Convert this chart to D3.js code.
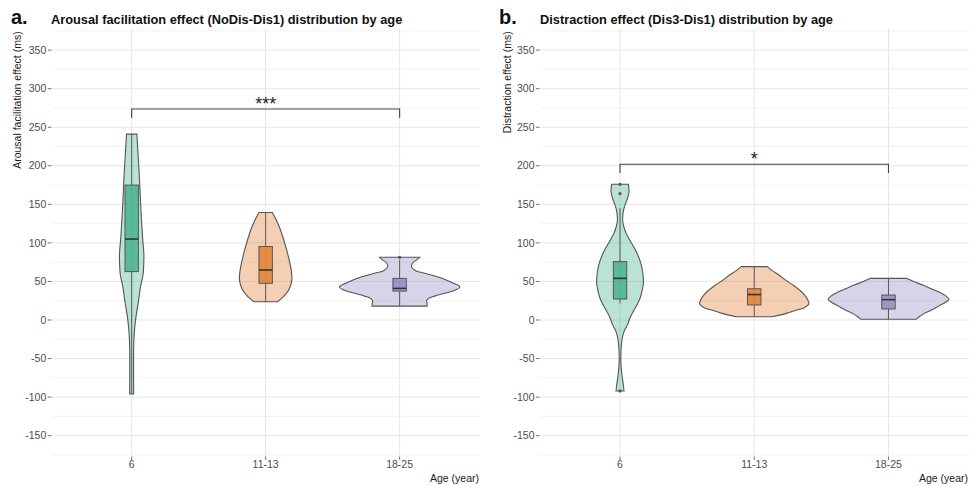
<!DOCTYPE html>
<html><head><meta charset="utf-8">
<script src="https://cdn.jsdelivr.net/npm/d3@7"></script>
<style>
body{margin:0;background:#fff;}
text{font-family:"Liberation Sans",Arial,sans-serif;}
</style>
</head><body><svg id="chart" width="969" height="486"></svg>
<script>
// ---------------- DATA ----------------
const categories = ["6", "11-13", "18-25"];
const yTicks = [-150, -100, -50, 0, 50, 100, 150, 200, 250, 300, 350];
const yMinor = [-175, -125, -75, -25, 25, 75, 125, 175, 225, 275, 325, 375];
const colors = ["#1b9e77", "#d95f02", "#7570b3"];

// violin outlines: [value (ms), relative density (arbitrary units)]
const violinA6 = [[241,5.2],[216,6.3],[190,7.5],[160,8.6],[130,9.8],[105,11],[86,12.2],[70,12],[58,11.3],[43,8.8],[26,7],[15,5.6],[4,4.3],[-8,3.2],[-17,2.6],[-30,2.1],[-50,1.9],[-75,1.9],[-96,2]];
const violinA11 = [[139.5,6.7],[130,10.5],[118,14.5],[106,17.6],[86,22],[65,25.5],[52,26.2],[40,23.5],[32,19],[27,15],[23.7,12]];
const violinA18 = [[81.3,20],[78,17],[74,13],[69,12],[64,16],[60,27],[56,38],[51,48],[47,55],[43,60.3],[39,56],[35,46],[31,35],[28,29],[25,27],[21,27.5],[18,27.5]];
const violinB6 = [[176,8.3],[168,9],[160,8],[152,5.8],[144,3.8],[136,2.8],[128,2.7],[120,4],[112,6.3],[104,9.5],[93,14.5],[82,18.5],[70,21.5],[58,23],[47,23.3],[35,21.5],[25,19],[13,14],[3,10],[-6,7.5],[-15,4],[-25,2],[-35,1.2],[-50,0.8],[-62,1.2],[-72,2],[-84,3.3],[-92,4]];
const violinB11 = [[69.2,13],[64,18],[58,25],[52,31],[45,39],[39,45],[33,50],[26,53.5],[21,54.5],[16,50],[12,40],[8.6,32],[4.3,18]];
const violinB18 = [[54,18],[50,25],[45,35],[41,42],[36,51],[31,57.5],[27,60.3],[23,57],[18,50],[13,43],[8.6,36],[4.5,31],[0.9,27.5]];

// box stats: [lower whisker, Q1, median, Q3, upper whisker]
const boxA = [[-96, 62.7, 105, 175, 241], [23.7, 47.6, 64.9, 95.3, 139.5], [18, 37.5, 41, 54, 78]];
const outliersA = [[], [], [81.3]];
const boxB = [[21.6, 27.2, 54, 75.7, 144.8], [4.3, 19.5, 33, 40.5, 69.2], [0.9, 14.3, 26.4, 32.4, 54]];
const outliersB = [[176, 164, -92], [], []];

// significance brackets: [from, to, bracket value, leg end value, label]
const sigA = ["6", "18-25", 273.7, 262, "***"];
const sigB = ["6", "18-25", 202, 190.5, "*"];

const titles = ["Arousal facilitation effect (NoDis-Dis1) distribution by age", "Distraction effect (Dis3-Dis1) distribution by age"];
const tags = ["a.", "b."];
const yTitles = ["Arousal facilitation effect (ms)", "Distraction effect (ms)"];
const xTitle = "Age (year)";

// ---------------- DRAW ----------------
const svg = d3.select("#chart");
const panels = [
  {x0: 51.3, x1: 480, tagX: 11, titleX: 51, yTitleX: 21, violins: [violinA6, violinA11, violinA18], box: boxA, out: outliersA, sig: sigA},
  {x0: 539.5, x1: 969, tagX: 499, titleX: 540, yTitleX: 511, violins: [violinB6, violinB11, violinB18], box: boxB, out: outliersB, sig: sigB}
];
const y0 = 29.3, y1 = 456.5;
const y = d3.scaleLinear().domain([-177, 377]).range([y1, y0]);

panels.forEach((p, pi) => {
  const g = svg.append("g");
  const x = d3.scalePoint().domain(categories).range([p.x0, p.x1]).padding(0.6);
  const step = x.step();
  const maxD = d3.max(p.violins.flat(), d => d[1]);
  const w = d3.scaleLinear().domain([0, maxD]).range([0, step * 0.45]);

  // grid
  g.selectAll(".minor").data(yMinor).join("line")
    .attr("x1", p.x0).attr("x2", p.x1).attr("y1", d => y(d)).attr("y2", d => y(d))
    .attr("stroke", "#f0f0f0").attr("stroke-width", 0.8);
  g.selectAll(".major").data(yTicks).join("line")
    .attr("x1", p.x0).attr("x2", p.x1).attr("y1", d => y(d)).attr("y2", d => y(d))
    .attr("stroke", "#e6e6e6").attr("stroke-width", 1);
  g.selectAll(".vmajor").data(categories).join("line")
    .attr("x1", d => x(d)).attr("x2", d => x(d)).attr("y1", y0).attr("y2", y1)
    .attr("stroke", "#e6e6e6").attr("stroke-width", 1);

  // y axis ticks & labels
  g.selectAll(".yt").data(yTicks).join("line")
    .attr("x1", p.x0 - 3.5).attr("x2", p.x0).attr("y1", d => y(d)).attr("y2", d => y(d))
    .attr("stroke", "#4d4d4d").attr("stroke-width", 0.8);
  g.selectAll(".yl").data(yTicks).join("text")
    .attr("x", p.x0 - 5).attr("y", d => y(d)).attr("dy", "0.35em")
    .attr("text-anchor", "end").attr("font-size", 10.5).attr("fill", "#4d4d4d")
    .text(d => d);
  // x axis ticks & labels
  g.selectAll(".xt").data(categories).join("line")
    .attr("x1", d => x(d)).attr("x2", d => x(d)).attr("y1", y1).attr("y2", y1 + 3.5)
    .attr("stroke", "#4d4d4d").attr("stroke-width", 0.8);
  g.selectAll(".xl").data(categories).join("text")
    .attr("x", d => x(d)).attr("y", y1 + 11).attr("text-anchor", "middle")
    .attr("font-size", 10.5).attr("fill", "#4d4d4d").text(d => d);

  // titles
  g.append("text").attr("x", p.tagX).attr("y", 24).attr("font-size", 20).attr("font-weight", "bold")
    .attr("fill", "#111").text(tags[pi]);
  g.append("text").attr("x", p.titleX).attr("y", 23.5).attr("font-size", 12.8).attr("font-weight", "bold")
    .attr("fill", "#111").text(titles[pi]);
  g.append("text").attr("transform", `translate(${p.yTitleX},${y0 + 2}) rotate(-90)`)
    .attr("text-anchor", "end").attr("font-size", 10.5).attr("fill", "#1a1a1a").text(yTitles[pi]);
  g.append("text").attr("x", p.x1 - 1).attr("y", y1 + 25).attr("text-anchor", "end")
    .attr("font-size", 10.5).attr("fill", "#1a1a1a").text(xTitle);

  // violins
  categories.forEach((c, i) => {
    const cx = x(c);
    const area = d3.area().curve(d3.curveCatmullRom.alpha(0.5))
      .y(d => y(d[0])).x0(d => cx - w(d[1])).x1(d => cx + w(d[1]));
    g.append("path").datum(p.violins[i]).attr("d", area)
      .attr("fill", colors[i]).attr("fill-opacity", 0.3)
      .attr("stroke", "#555").attr("stroke-width", 1.1);
  });

  // boxplots
  const bw = step * 0.1;
  categories.forEach((c, i) => {
    const cx = x(c);
    const b = p.box[i];
    g.append("line").attr("x1", cx).attr("x2", cx).attr("y1", y(b[0])).attr("y2", y(b[1]))
      .attr("stroke", "#4d4d4d").attr("stroke-width", 0.9);
    g.append("line").attr("x1", cx).attr("x2", cx).attr("y1", y(b[3])).attr("y2", y(b[4]))
      .attr("stroke", "#4d4d4d").attr("stroke-width", 0.9);
    g.append("rect").attr("x", cx - bw / 2).attr("width", bw)
      .attr("y", y(b[3])).attr("height", y(b[1]) - y(b[3]))
      .attr("fill", colors[i]).attr("fill-opacity", 0.6)
      .attr("stroke", "#4d4d4d").attr("stroke-width", 0.9);
    g.append("line").attr("x1", cx - bw / 2).attr("x2", cx + bw / 2).attr("y1", y(b[2])).attr("y2", y(b[2]))
      .attr("stroke", "#333").attr("stroke-width", 1.6);
    g.selectAll(null).data(p.out[i]).join("circle")
      .attr("cx", cx).attr("cy", d => y(d)).attr("r", 1.6).attr("fill", "#555");
  });

  // significance bracket
  const s = p.sig;
  const bx1 = x(s[0]), bx2 = x(s[1]);
  g.append("path")
    .attr("d", `M${bx1},${y(s[3])}V${y(s[2])}H${bx2}V${y(s[3])}`)
    .attr("fill", "none").attr("stroke", "#444").attr("stroke-width", 1.1);
  g.append("text").attr("x", (bx1 + bx2) / 2).attr("y", y(s[2]) + 1)
    .attr("text-anchor", "middle").attr("font-family", "DejaVu Sans").attr("font-size", 18)
    .attr("fill", "#222").text(s[4]);
});
</script>
</body></html>
